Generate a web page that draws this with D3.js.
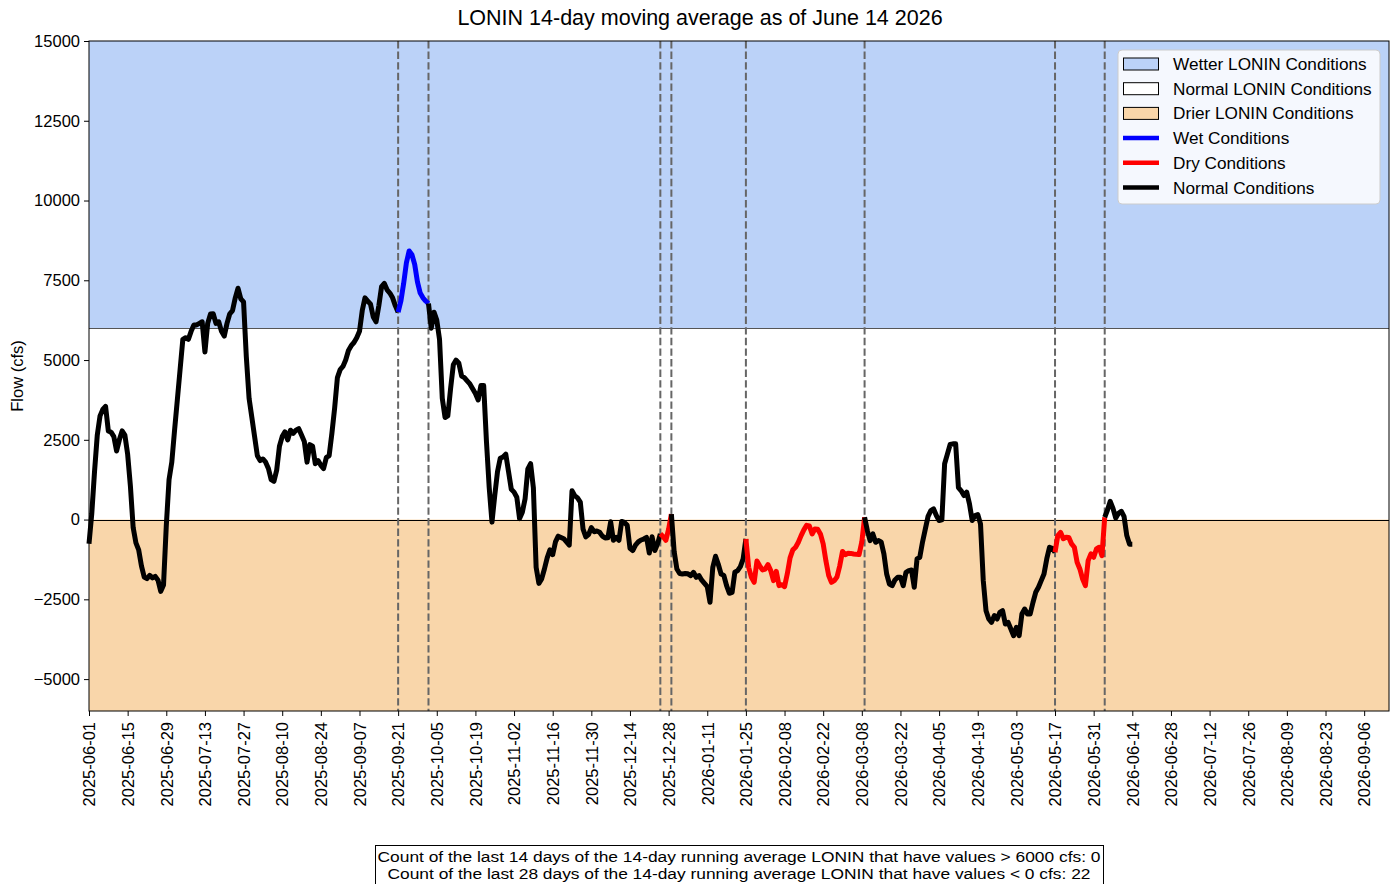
<!DOCTYPE html>
<html>
<head>
<meta charset="utf-8">
<script src="https://cdn.jsdelivr.net/npm/d3@7"></script>
<style>
  html, body { margin: 0; padding: 0; background: #fff; }
  svg { display: block; font-family: "Liberation Sans", Arial, sans-serif; }
</style>
</head>
<body>
<svg id="chart" width="1394" height="884"></svg>
<script>
// ---------------- DATA ----------------
const titleText = "LONIN 14-day moving average as of June 14 2026";
const yLabel = "Flow (cfs)";
const startDate = "2025-06-01";          // first daily value
const xDomainEnd = "2026-09-15";
// daily 14-day moving average flow (cfs), one value per day from startDate
const flowValues = [
  -760, 180, 1500, 2650, 3250, 3450, 3550, 2780, 2740, 2600,
  2150, 2500, 2780, 2650, 2050, 1050, -250, -730, -950, -1450,
  -1800, -1850, -1750, -1830, -1780, -1900, -2250, -2050, -200, 1250,
  1800, 2800, 3750, 4700, 5650, 5700, 5650, 5900, 6100, 6100,
  6150, 6200, 5250, 6150, 6440, 6450, 6150, 6200, 5900, 5750,
  6150, 6450, 6550, 6950, 7250, 6920, 6820, 5100, 3800, 3200,
  2600, 2000, 1850, 1900, 1800, 1600, 1250, 1200, 1550, 2300,
  2600, 2750, 2500, 2800, 2700, 2800, 2850, 2650, 2450, 1800,
  2350, 2300, 1750, 1850, 1700, 1600, 1950, 2000, 2700, 3500,
  4450, 4700, 4800, 5000, 5300, 5450, 5550, 5700, 5900, 6550,
  6950, 6850, 6750, 6350, 6200, 6700, 7300, 7400, 7200, 7100,
  6950, 6700, 6500, 6850, 7400, 8050, 8420, 8300, 8000, 7450,
  7100, 6950, 6850, 6770, 6000, 6500, 6250, 5650, 3800, 3200,
  3250, 4100, 4850, 5000, 4900, 4500, 4450, 4350, 4250, 4100,
  3950, 3750, 4200, 4200, 2450, 1000, -80, 750, 1500, 1920,
  1960, 2050, 1500, 950, 860, 700, 30, 230, 650, 1590,
  1750, 1000, -1500, -2000, -1860, -1550, -1200, -950, -1100, -700,
  -520, -560, -600, -700, -800, 900, 750, 680, 550, -300,
  -540, -470, -250, -380, -360, -400, -520, -575, -570, -70,
  -650, -560, -650, -60, -90, -180, -900, -970, -800, -700,
  -640, -610, -560, -1050, -540, -970, -760, -450, -530, -650,
  -300, 170, -1000, -1550, -1690, -1705, -1690, -1700, -1757, -1653,
  -1810, -1757, -1900, -2000, -2100, -2590, -1500, -1150, -1400, -1705,
  -1750, -2071, -2310, -2280, -1650, -1600, -1475, -1234, -607, -1496,
  -1810, -1966, -1300, -1450, -1580, -1550, -1412, -1600, -1914, -1621,
  -2071, -2040, -2102, -1700, -1200, -950, -868, -711, -502, -324,
  -180, -200, -450, -293, -300, -450, -764, -1300, -1757, -1966,
  -1914, -1800, -1450, -1000, -1100, -1056, -1060, -1077, -1090, -1098,
  -700, 73, -345, -659, -450, -711, -659, -700, -1077, -1705,
  -2019, -2071, -1893, -1810, -1810, -2071, -1653, -1600, -1580, -2123,
  -1234, -1182, -700, -300, 100, 280, 335, 126, -31, -10,
  1750, 2050, 2353, 2374, 2374, 1000, 900, 753, 858, 490,
  -31, 126, 157, -136, -1914, -2856, -3117, -3222, -3012, -3117,
  -2908, -2856, -3274, -3222, -3431, -3640, -3379, -3640, -2960, -2803,
  -2960, -2960, -2600, -2280, -2123, -1914, -1705, -1234, -868, -900,
  -1025, -500, -400, -600, -554, -560, -764, -868, -1339, -1548,
  -1862, -2071, -1287, -1077, -1182, -920, -868, -1130, 73, 300,
  570, 350, 50, 200, 260, 100, -500, -770, -770
];
const wetThreshold = 6000;
const dryThreshold = 0;
const wetPeriods = [["2025-09-21", "2025-10-02"]];
const dryPeriods = [["2025-12-25", "2025-12-29"], ["2026-01-25", "2026-03-09"], ["2026-05-17", "2026-06-04"]];
const yDomain = [-6000, 15000];
const yTicks = [-5000, -2500, 0, 2500, 5000, 7500, 10000, 12500, 15000];
const xTickLabels = [
  "2025-06-01","2025-06-15","2025-06-29","2025-07-13","2025-07-27","2025-08-10","2025-08-24",
  "2025-09-07","2025-09-21","2025-10-05","2025-10-19","2025-11-02","2025-11-16","2025-11-30",
  "2025-12-14","2025-12-28","2026-01-11","2026-01-25","2026-02-08","2026-02-22","2026-03-08",
  "2026-03-22","2026-04-05","2026-04-19","2026-05-03","2026-05-17","2026-05-31","2026-06-14",
  "2026-06-28","2026-07-12","2026-07-26","2026-08-09","2026-08-23","2026-09-06"
];
const legendItems = [
  { label: "Wetter LONIN Conditions", type: "patch", color: "#bbd2f8" },
  { label: "Normal LONIN Conditions", type: "patch", color: "#ffffff" },
  { label: "Drier LONIN Conditions", type: "patch", color: "#f9d6aa" },
  { label: "Wet Conditions", type: "line", color: "#0000ff" },
  { label: "Dry Conditions", type: "line", color: "#ff0000" },
  { label: "Normal Conditions", type: "line", color: "#000000" }
];
const footerLines = [
  "Count of the last 14 days of the 14-day running average LONIN that have values > 6000 cfs: 0",
  "Count of the last 28 days of the 14-day running average LONIN that have values < 0 cfs: 22"
];

// ---------------- CHART ----------------
const parse = d3.utcParse("%Y-%m-%d");
const fmt = d3.utcFormat("%Y-%m-%d");
const t0 = parse(startDate);
const data = flowValues.map((v, i) => ({ date: d3.utcDay.offset(t0, i), value: v }));

const margin = { left: 89, top: 41 };
const plotW = 1389 - 89, plotH = 711 - 41;

const svg = d3.select("#chart");
const g = svg.append("g").attr("transform", `translate(${margin.left},${margin.top})`);

const x = d3.scaleUtc().domain([t0, parse(xDomainEnd)]).range([0, plotW]);
const y = d3.scaleLinear().domain(yDomain).range([plotH, 0]);

// background bands
g.append("rect").attr("x", 0).attr("width", plotW)
  .attr("y", y(yDomain[1])).attr("height", y(wetThreshold) - y(yDomain[1]))
  .attr("fill", legendItems[0].color);
g.append("rect").attr("x", 0).attr("width", plotW)
  .attr("y", y(wetThreshold)).attr("height", y(dryThreshold) - y(wetThreshold))
  .attr("fill", legendItems[1].color);
g.append("rect").attr("x", 0).attr("width", plotW)
  .attr("y", y(dryThreshold)).attr("height", y(yDomain[0]) - y(dryThreshold))
  .attr("fill", legendItems[2].color);

g.append("line").attr("x1", 0).attr("x2", plotW)
  .attr("y1", Math.round(y(wetThreshold)) + 0.5).attr("y2", Math.round(y(wetThreshold)) + 0.5)
  .attr("stroke", "#555").attr("stroke-width", 1.2);
g.append("line").attr("x1", 0).attr("x2", plotW)
  .attr("y1", Math.round(y(dryThreshold)) + 0.5).attr("y2", Math.round(y(dryThreshold)) + 0.5)
  .attr("stroke", "#000").attr("stroke-width", 1);

// dashed event lines
const dashDates = [];
wetPeriods.concat(dryPeriods).forEach(p => { dashDates.push(parse(p[0]), parse(p[1])); });
g.selectAll("line.evt").data(dashDates).join("line").attr("class", "evt")
  .attr("x1", d => x(d)).attr("x2", d => x(d))
  .attr("y1", 0).attr("y2", plotH)
  .attr("stroke", "#666").attr("stroke-width", 2)
  .attr("stroke-dasharray", "7.4,3.2");

// line segments
const periods = [];
wetPeriods.forEach(p => periods.push({ s: parse(p[0]), e: parse(p[1]), color: "#0000ff" }));
dryPeriods.forEach(p => periods.push({ s: parse(p[0]), e: parse(p[1]), color: "#ff0000" }));
periods.sort((a, b) => a.s - b.s);
const segs = [];
let cursor = data[0].date;
periods.forEach(p => {
  segs.push({ s: cursor, e: p.s, color: "#000000" });
  segs.push({ s: p.s, e: p.e, color: p.color });
  cursor = p.e;
});
segs.push({ s: cursor, e: data[data.length - 1].date, color: "#000000" });

const line = d3.line().x(d => x(d.date)).y(d => y(d.value));
segs.forEach(sg => {
  const pts = data.filter(d => d.date >= sg.s && d.date <= sg.e);
  g.append("path").datum(pts).attr("d", line)
    .attr("fill", "none").attr("stroke", sg.color).attr("stroke-width", 5)
    .attr("stroke-linejoin", "round").attr("stroke-linecap", "butt");
});

// frame
g.append("rect").attr("x", 0).attr("y", 0).attr("width", plotW).attr("height", plotH)
  .attr("fill", "none").attr("stroke", "#000").attr("stroke-width", 1);

// axes
const minus = v => v < 0 ? "\u2212" + Math.abs(v) : String(v);
const yAxis = g.append("g").call(d3.axisLeft(y).tickValues(yTicks).tickFormat(minus).tickSizeOuter(0).tickSize(5).tickPadding(4));
yAxis.select(".domain").remove();
yAxis.selectAll("text").attr("font-size", "16.5px").attr("fill", "#000").attr("font-family", "Liberation Sans, Arial, sans-serif");

const xAxis = g.append("g").attr("transform", `translate(0,${plotH})`)
  .call(d3.axisBottom(x).tickValues(xTickLabels.map(parse)).tickFormat(fmt).tickSizeOuter(0).tickSize(5));
xAxis.select(".domain").remove();
xAxis.selectAll("text")
  .attr("font-size", "16.5px").attr("fill", "#000").attr("font-family", "Liberation Sans, Arial, sans-serif")
  .attr("transform", "rotate(-90)")
  .attr("text-anchor", "end")
  .attr("x", -11).attr("y", 0).attr("dy", "0.35em");

// title
svg.append("text").attr("x", 700).attr("y", 25).attr("text-anchor", "middle")
  .attr("font-size", "21.5px").attr("fill", "#000").text(titleText);

// y label
svg.append("text").attr("transform", `translate(23,${41 + plotH / 2}) rotate(-90)`)
  .attr("text-anchor", "middle").attr("font-size", "16.5px").attr("fill", "#000").text(yLabel);

// legend
const lg = svg.append("g").attr("transform", "translate(1118,50)");
lg.append("rect").attr("width", 262).attr("height", 154).attr("rx", 4)
  .attr("fill", "rgba(255,255,255,0.85)").attr("stroke", "#cccccc");
legendItems.forEach((it, i) => {
  const cy = 14 + i * 24.7;
  if (it.type === "patch") {
    lg.append("rect").attr("x", 5.5).attr("y", cy - 6).attr("width", 35).attr("height", 12)
      .attr("fill", it.color).attr("stroke", "#000").attr("stroke-width", 1);
  } else {
    lg.append("line").attr("x1", 5).attr("x2", 41).attr("y1", cy).attr("y2", cy)
      .attr("stroke", it.color).attr("stroke-width", 4.5);
  }
  lg.append("text").attr("x", 55).attr("y", cy).attr("dy", "0.35em")
    .attr("font-size", "17.2px").attr("fill", "#000").text(it.label);
});

// footer box
const footerWidths = [723, 703];
const fg = svg.append("g");
fg.append("rect").attr("x", 375.5).attr("y", 845.5).attr("width", 728).attr("height", 45)
  .attr("fill", "#fff").attr("stroke", "#000").attr("stroke-width", 1);
footerLines.forEach((t, i) => {
  fg.append("text").attr("x", 739).attr("y", 861.5 + i * 17.5).attr("text-anchor", "middle")
    .attr("font-size", "15.5px").attr("fill", "#000")
    .attr("textLength", footerWidths[i]).attr("lengthAdjust", "spacingAndGlyphs")
    .text(t);
});
</script>
</body>
</html>
